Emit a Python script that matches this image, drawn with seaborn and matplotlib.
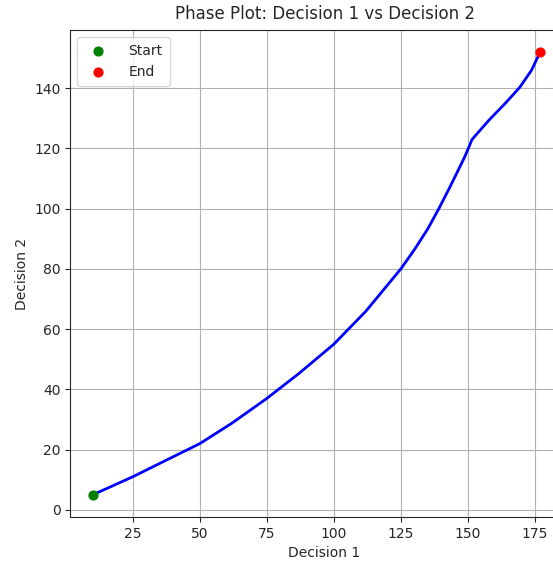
import matplotlib
matplotlib.use("Agg")
import matplotlib.pyplot as plt
import seaborn as sns
import pandas as pd

# Trajectory
decision1 = [10, 25, 37, 50, 62, 75, 87, 100, 112, 125, 130, 135, 139.2, 143,
             146, 149, 151.6, 157.8, 164, 169.4, 173.8, 177]
decision2 = [5, 11, 16.3, 22, 28.8, 37, 45.3, 55, 66, 80, 86.3, 93.2, 100, 106.6,
             112, 117.5, 123, 129.3, 135, 140.3, 146, 152]

start_point = (decision1[0], decision2[0])
end_point = (decision1[-1], decision2[-1])

df = pd.DataFrame({"Decision 1": decision1, "Decision 2": decision2})

sns.set_style("ticks")
plt.rcParams["font.family"] = ["DejaVu Sans"]

fig = plt.figure(figsize=(5.53, 5.65), dpi=100)
# axes runs past the right edge, like the cropped original
ax = fig.add_axes([0.127, 0.085, 0.92, 0.862])

sns.lineplot(data=df, x="Decision 1", y="Decision 2", sort=False,
             color="blue", linewidth=2, ax=ax)
ax.scatter([start_point[0]], [start_point[1]], color="green", s=40,
           label="Start", zorder=3)
ax.scatter([end_point[0]], [end_point[1]], color="red", s=40,
           label="End", zorder=3)

ax.set_xlim(1.65, 191.5)
ax.set_ylim(-2.35, 159.35)
ax.set_xticks([25, 50, 75, 100, 125, 150, 175])
ax.set_yticks([0, 20, 40, 60, 80, 100, 120, 140])
ax.grid(True, color="#b0b0b0", linewidth=0.8)
ax.tick_params(labelsize=10)

ax.set_title("Phase Plot: Decision 1 vs Decision 2", fontsize=12, pad=8)
ax.set_xlabel("Decision 1", fontsize=10)
ax.set_ylabel("Decision 2", fontsize=10)
ax.legend(loc="upper left", fontsize=10, borderpad=0.5, handletextpad=1.2)

fig.savefig("out.png", dpi=100)
